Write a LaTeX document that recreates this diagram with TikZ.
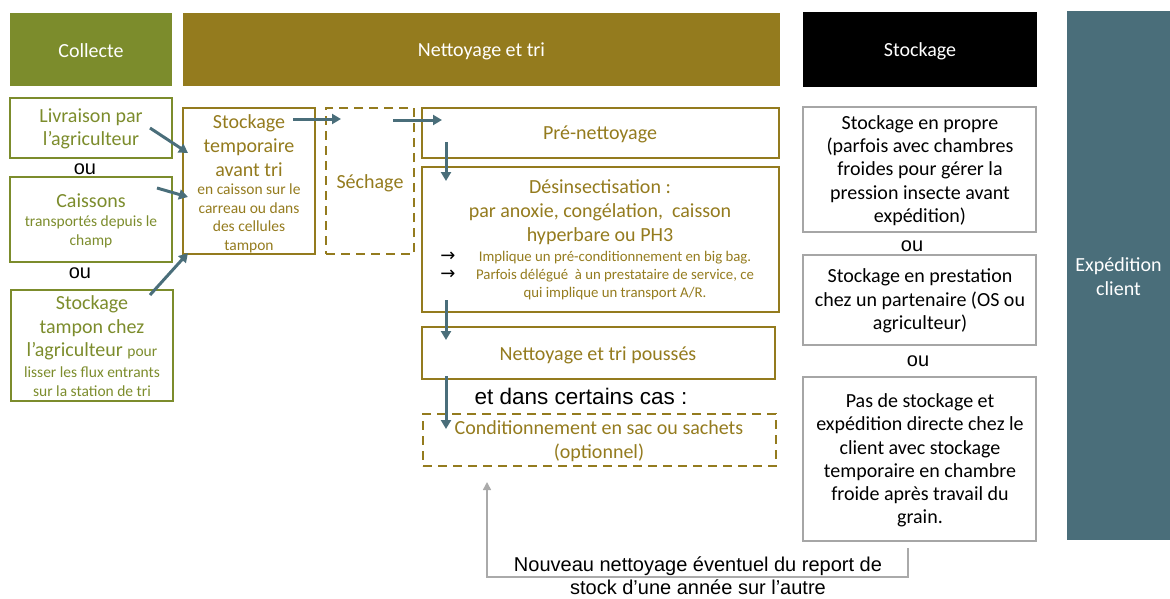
\documentclass[tikz,border=0pt]{standalone}
\usepackage{fontspec}
\setmainfont{Carlito}
\newfontfamily\arialf{Liberation Sans}
\newfontfamily\dejavu{DejaVu Sans}
\usetikzlibrary{arrows.meta}
\definecolor{cgreen}{RGB}{124,140,44}
\definecolor{cgold}{RGB}{148,123,30}
\definecolor{cteal}{RGB}{74,110,122}
\definecolor{cgray}{RGB}{166,166,166}
\definecolor{clgray}{RGB}{170,170,170}
\newcommand{\fs}[2]{\fontsize{#1}{#2}\selectfont}
\begin{document}
\begin{tikzpicture}[x=1pt,y=-1pt,
  hdr/.style={inner sep=0, text=white, align=center, font=\fs{20}{24}},
  gbox/.style={draw=cgreen, line width=2.5pt, inner sep=0},
  obox/.style={draw=cgold, line width=2.5pt, inner sep=0},
  dbox/.style={obox, dash pattern=on 9pt off 6pt},
  sbox/.style={draw=cgray, line width=2.5pt, inner sep=0},
  flow/.style={draw=cteal, line width=3pt, -{Triangle[length=9pt,width=10pt]}},
  back/.style={draw=clgray, line width=1.5pt, -{Triangle[length=8pt,width=8pt]}},
  gtxt/.style={text=cgreen, align=center, inner sep=0, font=\fs{20}{23.5}},
  gsmall/.style={text=cgreen, align=center, inner sep=0, font=\fs{15.5}{19}},
  otxt/.style={text=cgold, align=center, inner sep=0, font=\fs{20}{24}},
  osmall/.style={text=cgold, align=center, inner sep=0, font=\fs{15.5}{18.7}},
  obullet/.style={text=cgold, align=center, inner sep=0, font=\fs{14.8}{18}},
  arrowtxt/.style={text=black, inner sep=0, font=\dejavu\fs{18}{18}},
  btxt/.style={text=black, align=center, inner sep=0, font=\fs{20}{23.3}},
  outxt/.style={text=black, inner sep=0, font=\arialf\fs{20}{23}},
  artxt/.style={text=black, align=center, inner sep=0, font=\arialf\fs{20}{22.5}}
]
\useasboundingbox (0,0) rectangle (1170,598);

% headers
\node[hdr, fill=cgreen, minimum width=162, minimum height=73] (hcol) at (91,49) {};
\node[hdr] (hcolt) at (91,51) {Collecte};
\node[hdr, fill=cgold, minimum width=597, minimum height=73] (hnet) at (481.5,49) {};
\node[hdr] (hnett) at (481.5,51) {Nettoyage et tri};
\node[hdr, fill=black, minimum width=234, minimum height=75] (hsto) at (920,49) {};
\node[hdr] (hstot) at (920,51) {Stockage};
\node[hdr, fill=cteal, minimum width=103, minimum height=529] (hexp) at (1118.5,275.5) {};
\node[hdr] (hexpt) at (1118.5,277) {Expédition\\client};

% Collecte column
\node[gbox, minimum width=162, minimum height=60] (liv) at (91,128) {};
\node[gtxt] (livt) at (91,129) {Livraison par\\l’agriculteur};
\node[outxt] (ou1) at (85,169) {ou};
\node[gbox, minimum width=162, minimum height=85] (cai) at (91,219.5) {};
\node[gtxt] (cait) at (91,201) {Caissons};
\node[gsmall] (cais) at (91,232) {transportés depuis le\\champ};
\node[outxt] (ou2) at (80,273) {ou};
\node[gbox, minimum width=162, minimum height=111] (tam) at (92,345.5) {};
\node[gtxt] (tamt) at (92,328) {Stockage\\tampon chez\\l’agriculteur {\fs{15.5}{19}pour}};
\node[gsmall] (tams) at (92,382) {lisser les flux entrants\\sur la station de tri};

% Nettoyage column
\node[obox, minimum width=132, minimum height=146] (tmp) at (249,181) {};
\node[otxt] (tmpt) at (249,146) {Stockage\\temporaire\\avant tri};
\node[osmall] (tmps) at (249,218.5) {en caisson sur le\\carreau ou dans\\des cellules\\tampon};
\node[dbox, minimum width=88, minimum height=146] (sech) at (370,181) {};
\node[otxt] (secht) at (370,183) {Séchage};
\node[obox, minimum width=357, minimum height=50] (pre) at (600.5,133) {};
\node[otxt] (pret) at (600,134) {Pré-nettoyage};
\node[obox, minimum width=357, minimum height=145] (des) at (600.5,239.5) {};
\node[otxt] (dest) at (600,212) {Désinsectisation :\\par anoxie, congélation,\ \ caisson\\hyperbare ou PH3};
\node[obullet] (desb) at (615,276) {Implique un pré-conditionnement en big bag.\\Parfois délégué\ \ à un prestataire de service, ce\\qui implique un transport A/R.};
\node[arrowtxt] (ar1) at (448,257) {→};
\node[arrowtxt] (ar2) at (448,275) {→};
\node[obox, minimum width=353, minimum height=52] (pou) at (598.5,353) {};
\node[otxt] (pout) at (598,355) {Nettoyage et tri poussés};
\node[artxt, font=\arialf\fs{22.5}{26}] (ecas) at (581,396) {et dans certains cas :};
\node[dbox, minimum width=353, minimum height=52] (cond) at (599.5,440) {};
\node[otxt] (condt) at (599,441) {Conditionnement en sac ou sachets\\(optionnel)};

% Stockage column
\node[sbox, minimum width=233, minimum height=125] (sp1) at (919.5,169.5) {};
\node[btxt] (sp1t) at (920,170.5) {Stockage en propre\\(parfois avec chambres\\froides pour gérer la\\pression insecte avant\\expédition)};
\node[outxt] (ou3) at (912,246) {ou};
\node[sbox, minimum width=233, minimum height=90] (sp2) at (919.5,300) {};
\node[btxt] (sp2t) at (920,301) {Stockage en prestation\\chez un partenaire (OS ou\\agriculteur)};
\node[outxt] (ou4) at (918,361) {ou};
\node[sbox, minimum width=233, minimum height=164] (sp3) at (919.5,459) {};
\node[btxt] (sp3t) at (920,460.5) {Pas de stockage et\\expédition directe chez le\\client avec stockage\\temporaire en chambre\\froide après travail du\\grain.};

% bottom note
\node[artxt] (note) at (698,575.5) {Nouveau nettoyage éventuel du report de\\stock d’une année sur l’autre};

% flow arrows
\coordinate (a1s) at (150,128); \coordinate (a1e) at (188,153);
\coordinate (a2s) at (157,188); \coordinate (a2e) at (188,197);
\coordinate (a3s) at (150,295); \coordinate (a3e) at (188,253);
\coordinate (a4s) at (293,119); \coordinate (a4e) at (341,119);
\coordinate (a5s) at (393,120); \coordinate (a5e) at (442,120);
\coordinate (a6s) at (446,142); \coordinate (a6e) at (446,181);
\coordinate (a7s) at (446,300); \coordinate (a7e) at (446,340);
\coordinate (a8s) at (446,376); \coordinate (a8e) at (446,429);
\draw[flow] (a1s) -- (a1e);
\draw[flow] (a2s) -- (a2e);
\draw[flow] (a3s) -- (a3e);
\draw[flow] (a4s) -- (a4e);
\draw[flow] (a5s) -- (a5e);
\draw[flow] (a6s) -- (a6e);
\draw[flow] (a7s) -- (a7e);
\draw[flow] (a8s) -- (a8e);

% back connector
\coordinate (bs) at (908,548);
\coordinate (be) at (487,482);
\draw[back] (bs) |- (487,577) -- (be);
\end{tikzpicture}
\end{document}
